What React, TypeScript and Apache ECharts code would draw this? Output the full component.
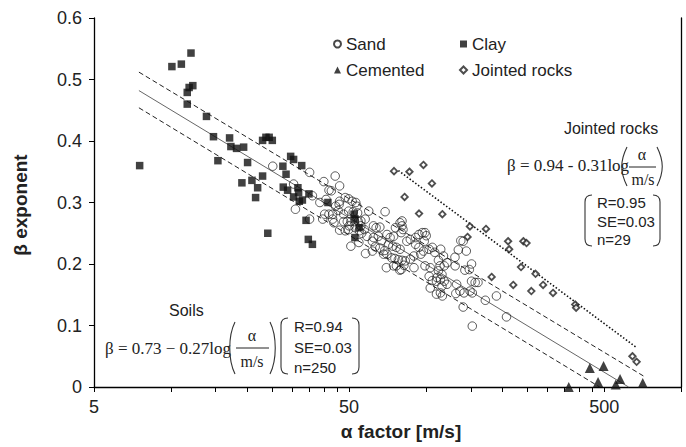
import React, { useEffect, useRef } from "react";
import * as echarts from "echarts";

// ---------- data (alpha [m/s], beta) ----------
const sand: [number, number][] = [
  [25.1, 0.359], [30.3, 0.33], [30.8, 0.289], [35.0, 0.349], [35.9, 0.311], [35.0, 0.273],
  [38.4, 0.3], [39.8, 0.334], [40.6, 0.305], [41.7, 0.32], [42.6, 0.319], [44.1, 0.343], [45.9, 0.327],
  [45.9, 0.302], [44.3, 0.294], [45.7, 0.297], [45.3, 0.287], [40.1, 0.281], [41.7, 0.281], [43.1, 0.281],
  [43.1, 0.273], [43.6, 0.267], [45.9, 0.255], [39.4, 0.273],
  [48.3, 0.308], [49.8, 0.306], [51.4, 0.302], [53.1, 0.3], [47.6, 0.281], [49.8, 0.286], [51.9, 0.285],
  [54.0, 0.283], [47.6, 0.269], [49.2, 0.269], [50.8, 0.269], [52.5, 0.269], [54.3, 0.269], [48.3, 0.254],
  [49.8, 0.256], [52.8, 0.259], [54.8, 0.254], [50.8, 0.229], [53.6, 0.294], [55.6, 0.27], [55.6, 0.262],
  [57.4, 0.256], [50.0, 0.262],
  [54.6, 0.235], [58.7, 0.245], [61.7, 0.237], [61.7, 0.221], [58.0, 0.217], [62.3, 0.262], [63.8, 0.259],
  [62.3, 0.243], [65.1, 0.245], [67.1, 0.238], [68.3, 0.216], [70.4, 0.216], [70.4, 0.248], [57.8, 0.273],
  [59.7, 0.286], [69.2, 0.285], [66.0, 0.26], [63.3, 0.228], [66.0, 0.226], [69.0, 0.222], [70.0, 0.194],
  [56.0, 0.25],
  [72.4, 0.243], [74.7, 0.245], [71.4, 0.232], [74.2, 0.229], [76.6, 0.227], [79.2, 0.224], [79.2, 0.267],
  [80.6, 0.262], [81.3, 0.256], [80.6, 0.27], [80.0, 0.251], [84.2, 0.237], [86.9, 0.24], [91.1, 0.243],
  [93.9, 0.248], [96.8, 0.251], [99.2, 0.251], [91.1, 0.232], [93.9, 0.227], [97.8, 0.221], [73.4, 0.21],
  [75.6, 0.209], [78.0, 0.207], [80.6, 0.206], [83.0, 0.205], [74.7, 0.197], [76.6, 0.197], [80.0, 0.191],
  [86.9, 0.208], [89.7, 0.213], [95.5, 0.216], [99.2, 0.197], [76.0, 0.259], [79.0, 0.19], [89.8, 0.194],
  [82.0, 0.198],
  [102.9, 0.224], [106, 0.227], [104, 0.194], [103, 0.18], [106, 0.173], [104, 0.161], [110.5, 0.178],
  [100.3, 0.246], [98.5, 0.237], [108.3, 0.219], [114.3, 0.224], [117.2, 0.213], [112, 0.206], [113.6, 0.197],
  [112, 0.189], [115.6, 0.183], [110, 0.172], [114, 0.175], [118, 0.172], [115.6, 0.164], [114, 0.153],
  [121, 0.167], [121, 0.202], [118, 0.197], [110, 0.151], [116, 0.148],
  [130.2, 0.197], [142.2, 0.19], [148, 0.191], [151, 0.2], [144, 0.221], [132, 0.167], [136, 0.156],
  [141, 0.153], [131, 0.152], [151, 0.172], [156, 0.17], [160, 0.17], [149, 0.156], [152, 0.153],
  [140, 0.13], [171, 0.141], [189, 0.148], [207, 0.114], [152, 0.099], [140, 0.237], [134, 0.223],
  [137, 0.238], [130, 0.211],
];

const clay: [number, number][] = [
  [7.55, 0.36], [10.1, 0.521], [11.0, 0.525], [12.0, 0.543], [11.6, 0.479], [11.8, 0.487], [12.2, 0.49],
  [11.6, 0.46], [13.8, 0.44], [14.7, 0.407], [15.3, 0.368], [17.0, 0.405], [17.2, 0.391], [18.1, 0.388],
  [19.3, 0.39], [19.0, 0.332], [20.0, 0.365], [20.8, 0.336], [21.5, 0.308], [21.9, 0.324], [22.9, 0.343],
  [22.9, 0.401], [23.6, 0.406], [24.3, 0.406], [25.0, 0.401], [24.0, 0.25], [27.5, 0.359], [28.3, 0.346],
  [27.6, 0.325], [28.7, 0.32], [29.5, 0.375], [30.3, 0.37], [32.6, 0.36], [31.5, 0.324], [31.7, 0.316],
  [30.3, 0.309], [31.9, 0.302], [32.8, 0.304], [34.8, 0.314], [33.9, 0.271], [34.6, 0.24], [35.9, 0.232],
  [41.3, 0.3], [52.3, 0.281], [52.8, 0.273], [54.7, 0.259], [52.7, 0.243],
];

const cemented: [number, number][] = [
  [363, 0], [439, 0.031], [497, 0.034], [473, 0.008], [577, 0.013], [555, 0.004], [708, 0.0065],
];

const jointedRocks: [number, number][] = [
  [75.0, 0.351], [86.2, 0.35], [97.8, 0.361], [105.6, 0.331], [82.5, 0.309], [94, 0.282], [116, 0.281],
  [148.8, 0.261], [172, 0.257], [145.6, 0.244], [210, 0.237], [241, 0.237], [248, 0.234], [212, 0.224],
  [181, 0.179], [220, 0.166], [236, 0.195], [269, 0.184], [288, 0.166], [259, 0.156], [315, 0.153],
  [385, 0.134], [388, 0.129], [645, 0.05], [670, 0.041],
];

// regression lines (end points)
const soilFit: [number, number][] = [[7.5, 0.482], [623, 0]];
const soilUpper: [number, number][] = [[7.5, 0.512], [712, 0.018]];
const soilLower: [number, number][] = [[7.5, 0.454], [480, 0]];
const rockFit: [number, number][] = [[78, 0.352], [670, 0.064]];

// axes
const xTickValues = [5, 10, 15, 20, 25, 30, 35, 40, 45, 50, 100, 150, 200, 250, 300, 350, 400, 450, 500, 1000];
const xLabelValues = [5, 50, 500];
const yMin = 0;
const yMax = 0.6;
const yStep = 0.1;

const FONT_SANS = '"Liberation Sans", Arial, Helvetica, sans-serif';
const FONT_SERIF = '"Liberation Serif", "Times New Roman", Times, serif';
const INK = "#222";

// ---------- annotation shapes (brackets / parentheses) ----------
function bracketPath(x: number, top: number, bottom: number, dir: number) {
  const h = 7 * dir;
  return `M${x + h} ${top} Q${x} ${top} ${x} ${top + 7} L${x} ${bottom - 7} Q${x} ${bottom} ${x + h} ${bottom}`;
}
function parenPath(x: number, top: number, bottom: number, dir: number) {
  const w = 6 * dir;
  return `M${x + w} ${top} C${x - dir} ${top + 14} ${x - dir} ${bottom - 14} ${x + w} ${bottom}`;
}
const shapeDefs: Record<string, string> = {
  soilStatL: bracketPath(281, 318, 374, 1),
  soilStatR: bracketPath(359, 318, 374, -1),
  soilParL: parenPath(229, 322, 374, 1),
  soilParR: parenPath(276, 322, 374, -1),
  rockStatL: bracketPath(585, 195, 246, 1),
  rockStatR: bracketPath(660, 195, 246, -1),
  rockParL: parenPath(621, 147, 186, 1),
  rockParR: parenPath(663, 147, 186, -1),
};
Object.keys(shapeDefs).forEach((k) => {
  echarts.graphic.registerShape(k, echarts.graphic.extendPath(shapeDefs[k], {}));
});

function txt(x: number, y: number, text: string, font: string, align = "left", extra: any = {}) {
  return {
    type: "text",
    x,
    y,
    ...extra,
    style: {
      text,
      font,
      fill: INK,
      align,
      verticalAlign: "middle",
      textAlign: align,
      textVerticalAlign: "middle",
    },
  };
}
function shape(type: string) {
  return { type, x: 0, y: 0, style: { stroke: "#333", fill: "none", lineWidth: 1.1 } };
}
function hline(x1: number, x2: number, y: number) {
  return { type: "line", shape: { x1, y1: y, x2, y2: y }, style: { stroke: INK, lineWidth: 1 } };
}

export default function App() {
  const ref = useRef<HTMLDivElement>(null);

  useEffect(() => {
    document.body.style.margin = "0";
    if (!ref.current) return;
    const chart = echarts.init(ref.current, undefined, { renderer: "svg" });

    const legendText = { fontSize: 17, fontFamily: FONT_SANS, color: INK, lineHeight: 20 };

    const option: any = {
      animation: false,
      backgroundColor: "#fff",
      grid: { left: 94, right: 5, top: 18, bottom: 60, containLabel: false },
      legend: [
        {
          data: ["Sand", "Cemented"],
          orient: "vertical",
          left: 333,
          top: 34,
          padding: 0,
          itemWidth: 7,
          itemHeight: 7,
          itemGap: 6,
          selectedMode: false,
          textStyle: legendText,
        },
        {
          data: ["Clay", "Jointed rocks"],
          orient: "vertical",
          left: 459,
          top: 34,
          padding: 0,
          itemWidth: 7,
          itemHeight: 7,
          itemGap: 6,
          selectedMode: false,
          textStyle: legendText,
        },
      ],
      xAxis: {
        type: "log",
        logBase: 10,
        min: 5,
        max: 1000,
        axisLine: { show: true, lineStyle: { color: "#000", width: 1.3 } },
        axisTick: { show: true, length: 5, customValues: xTickValues, lineStyle: { color: "#000", width: 1 } },
        minorTick: { show: false },
        axisLabel: {
          customValues: xLabelValues,
          fontSize: 18,
          fontFamily: FONT_SANS,
          color: INK,
          margin: 11,
        },
        splitLine: { show: false },
      },
      yAxis: [
        {
          type: "value",
          min: yMin,
          max: yMax,
          interval: yStep,
          axisLine: { show: true, lineStyle: { color: "#000", width: 1.3 } },
          axisTick: { show: true, length: 5, lineStyle: { color: "#000", width: 1 } },
          axisLabel: {
            fontSize: 18,
            fontFamily: FONT_SANS,
            color: INK,
            margin: 12,
            formatter: (v: number) => (v === 0 ? "0" : v.toFixed(1)),
          },
          splitLine: { show: false },
        },
        {
          type: "value",
          position: "right",
          min: yMin,
          max: yMax,
          interval: yStep,
          axisLine: { show: true, lineStyle: { color: "#000", width: 1.3 } },
          axisTick: { show: false },
          axisLabel: { show: false },
          splitLine: { show: false },
        },
      ],
      series: [
        {
          name: "soil fit",
          type: "line",
          data: soilFit,
          symbol: "none",
          lineStyle: { color: "#555", width: 0.9 },
          z: 1,
        },
        {
          name: "soil upper",
          type: "line",
          data: soilUpper,
          symbol: "none",
          lineStyle: { color: "#222", width: 1, type: [5, 3] },
          z: 1,
        },
        {
          name: "soil lower",
          type: "line",
          data: soilLower,
          symbol: "none",
          lineStyle: { color: "#222", width: 1, type: [5, 3] },
          z: 1,
        },
        {
          name: "rock fit",
          type: "line",
          data: rockFit,
          symbol: "none",
          lineStyle: { color: "#111", width: 1.6, type: [1.5, 2] },
          z: 1,
        },
        {
          name: "Sand",
          type: "scatter",
          data: sand,
          symbol: "circle",
          symbolSize: 8.5,
          itemStyle: { color: "rgba(255,255,255,0)", borderColor: "#1a1a1a", borderWidth: 0.9 },
          z: 2,
        },
        {
          name: "Clay",
          type: "scatter",
          data: clay,
          symbol: "rect",
          symbolSize: 7.5,
          itemStyle: { color: "#111" },
          z: 3,
        },
        {
          name: "Cemented",
          type: "scatter",
          data: cemented,
          symbol: "triangle",
          symbolSize: 10,
          itemStyle: { color: "#111" },
          z: 3,
        },
        {
          name: "Jointed rocks",
          type: "scatter",
          data: jointedRocks,
          symbol: "diamond",
          symbolSize: 6.5,
          itemStyle: { color: "#fff", borderColor: "#222", borderWidth: 1.8 },
          z: 3,
        },
      ],
      graphic: {
        elements: [
          txt(20, 205, "β exponent", `bold 19px ${FONT_SANS}`, "center", { rotation: Math.PI / 2 }),
          txt(401, 431, "α factor [m/s]", `bold 19px ${FONT_SANS}`, "center"),

          // Soils annotation
          txt(169, 310, "Soils", `16px ${FONT_SANS}`),
          txt(105, 348, "β = 0.73 − 0.27log", `17px ${FONT_SERIF}`),
          shape("soilParL"),
          txt(252, 335, "α", `16px ${FONT_SERIF}`, "center"),
          hline(236, 269, 348),
          txt(252, 361, "m/s", `16px ${FONT_SERIF}`, "center"),
          shape("soilParR"),
          shape("soilStatL"),
          shape("soilStatR"),
          txt(294, 326, "R=0.94", `15px ${FONT_SANS}`),
          txt(294, 347, "SE=0.03", `15px ${FONT_SANS}`),
          txt(294, 367, "n=250", `15px ${FONT_SANS}`),

          // Jointed rocks annotation
          txt(611, 128, "Jointed rocks", `16px ${FONT_SANS}`, "center"),
          txt(507, 165, "β = 0.94 - 0.31log", `17px ${FONT_SERIF}`),
          shape("rockParL"),
          txt(642, 154, "α", `16px ${FONT_SERIF}`, "center"),
          hline(629, 656, 167),
          txt(643, 179, "m/s", `16px ${FONT_SERIF}`, "center"),
          shape("rockParR"),
          shape("rockStatL"),
          shape("rockStatR"),
          txt(597, 202, "R=0.95", `15px ${FONT_SANS}`),
          txt(597, 221, "SE=0.03", `15px ${FONT_SANS}`),
          txt(597, 239, "n=29", `15px ${FONT_SANS}`),
        ],
      },
    };

    chart.setOption(option);
    return () => chart.dispose();
  }, []);

  return <div ref={ref} style={{ width: 686, height: 447 }} />;
}
